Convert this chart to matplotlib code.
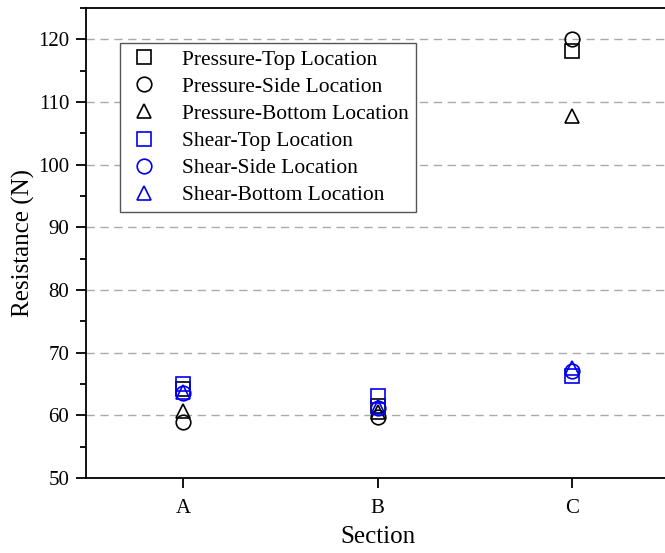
import matplotlib
matplotlib.use("Agg")
import matplotlib.pyplot as plt
from matplotlib.ticker import MultipleLocator

plt.rcParams['font.family'] = ['Liberation Serif', 'DejaVu Serif']

sections = ["A", "B", "C"]
pressure_top = [64.2, 61.5, 118.2]
pressure_side = [59.0, 59.8, 120.1]
pressure_bottom = [60.7, 60.6, 107.7]
shear_top = [65.0, 63.1, 66.3]
shear_side = [63.6, 61.2, 67.0]
shear_bottom = [63.8, 61.4, 67.5]

series = [
    ("Pressure-Top Location", pressure_top, "s", "black"),
    ("Pressure-Side Location", pressure_side, "o", "black"),
    ("Pressure-Bottom Location", pressure_bottom, "^", "black"),
    ("Shear-Top Location", shear_top, "s", "#0000ee"),
    ("Shear-Side Location", shear_side, "o", "#0000ee"),
    ("Shear-Bottom Location", shear_bottom, "^", "#0000ee"),
]

fig = plt.figure(figsize=(6.65, 5.53), dpi=100)
ax = fig.add_axes([86 / 665, 75 / 553, 583 / 665, 470 / 553])

x = list(range(1, len(sections) + 1))
for label, vals, mk, col in series:
    ax.plot(x, vals, linestyle="none", marker=mk, markersize=10.5,
            markerfacecolor="none", markeredgecolor=col, markeredgewidth=1.2,
            label=label)

ax.set_xlim(0.5, 3.5)
ax.set_ylim(50, 125)
ax.set_xticks(x)
ax.set_xticklabels(sections)
ax.yaxis.set_major_locator(MultipleLocator(10))
ax.yaxis.set_minor_locator(MultipleLocator(5))
ax.tick_params(axis="both", which="major", direction="out", length=7, width=1.3,
               labelsize=15, pad=5)
ax.tick_params(axis="x", which="major", pad=8)
ax.tick_params(axis="y", which="minor", direction="out", length=4, width=1.3)
ax.tick_params(axis="x", which="minor", bottom=False)
for s in ax.spines.values():
    s.set_linewidth(1.3)

ax.yaxis.grid(True, which="major", linestyle=(0, (6, 4)), color="#aaaaaa", linewidth=1.0)
ax.set_axisbelow(True)

ax.set_xlabel("Section", fontsize=18, labelpad=6)
ax.set_ylabel("Resistance (N)", fontsize=18, labelpad=2)

leg = ax.legend(loc="upper left", bbox_to_anchor=(120 / 665, 1 - 43 / 553),
                bbox_transform=fig.transFigure, fontsize=15.5, frameon=True,
                fancybox=False, edgecolor="#555555", framealpha=1,
                handletextpad=1.0, borderpad=0.3, labelspacing=0.33,
                handlelength=1.6, borderaxespad=0)
leg.get_frame().set_linewidth(1.0)

fig.savefig("out.png", dpi=100)
